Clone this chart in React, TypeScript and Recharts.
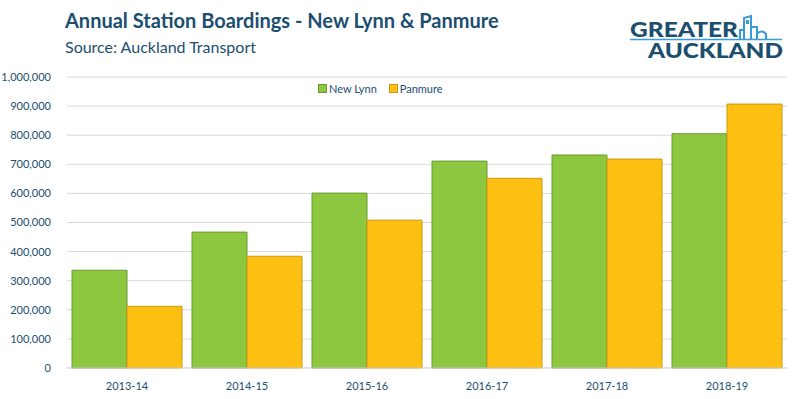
import React from "react";
import { BarChart, Bar, XAxis, YAxis, CartesianGrid } from "recharts";

const years = ["2013-14", "2014-15", "2015-16", "2016-17", "2017-18", "2018-19"];
const newLynn = [336000, 467000, 601000, 711000, 732000, 805000];
const panmure = [212000, 384000, 508000, 652000, 718000, 907000];
const yTicks = [0, 100000, 200000, 300000, 400000, 500000, 600000, 700000, 800000, 900000, 1000000];

const data = years.map((year, i) => ({
  year,
  newLynn: newLynn[i],
  panmure: panmure[i],
}));

const GREEN = "#8dc63f";
const ORANGE = "#fdbf12";
const NAVY = "#1c4e70";
const FONT = "Lato, 'Noto Sans', sans-serif";

const Logo = () => (
  <svg width={170} height={70} style={{ position: "absolute", left: 620, top: 0 }}>
    <text x={10} y={37} fontFamily={FONT} fontWeight={900} fontSize={21} fill={NAVY} textLength={108} lengthAdjust="spacingAndGlyphs">
      GREATER
    </text>
    <text x={28} y={58} fontFamily={FONT} fontWeight={900} fontSize={20} fill={NAVY} textLength={135} lengthAdjust="spacingAndGlyphs">
      AUCKLAND
    </text>
    <line x1={10} y1={39.5} x2={162} y2={39.5} stroke="#3a9bd9" strokeWidth={1.5} />
    <g fill="none" stroke="#3a9bd9" strokeWidth={2}>
      <path d="M124 39 V18 L131 16 V39" />
      <path d="M131 27 H137 V39" />
      <path d="M137 39 V34 Q141 29 146 34 V39" />
      <path d="M120 39 V30 H124" />
    </g>
    <rect x={126} y={20} width={3} height={4} fill="#3a9bd9" />
  </svg>
);

export default function App() {
  return (
    <div style={{ position: "absolute", left: 0, top: 0, width: 801, height: 399, background: "#fff", fontFamily: FONT }}>
      <div style={{ position: "absolute", left: 65, top: 8, fontSize: 20, fontWeight: 700, color: NAVY, whiteSpace: "nowrap" }}>
        Annual Station Boardings - New Lynn &amp; Panmure
      </div>
      <div style={{ position: "absolute", left: 65, top: 37, fontSize: 16, color: NAVY, whiteSpace: "nowrap" }}>
        Source: Auckland Transport
      </div>
      <Logo />
      <div style={{ position: "absolute", left: 318, top: 82, display: "flex", alignItems: "center", fontSize: 11, color: NAVY }}>
        <span style={{ width: 7, height: 7, background: GREEN, border: "1px solid #6b9a33", marginRight: 2 }} />
        <span style={{ marginRight: 12 }}>New Lynn</span>
        <span style={{ width: 7, height: 7, background: ORANGE, border: "1px solid #c99a10", marginRight: 2 }} />
        <span>Panmure</span>
      </div>
      <div style={{ position: "absolute", left: 0, top: 0 }}>
        <BarChart
          width={801}
          height={399}
          data={data}
          margin={{ top: 77, right: 14, bottom: 0, left: 0 }}
          barCategoryGap={5}
          barGap={0}
        >
          <CartesianGrid vertical={false} stroke="#d9d9d9" />
          <XAxis
            dataKey="year"
            tickLine={false}
            axisLine={{ stroke: "#d9d9d9" }}
            tick={{ fill: NAVY, fontSize: 11, fontFamily: FONT }}
            tickMargin={8}
            height={31}
          />
          <YAxis
            width={67}
            domain={[0, 1000000]}
            ticks={yTicks}
            tickLine={false}
            axisLine={false}
            tickMargin={10}
            tick={{ fill: NAVY, fontSize: 11, fontFamily: FONT }}
            tickFormatter={(v: number) => v.toLocaleString("en-US")}
          />
          <Bar dataKey="newLynn" fill={GREEN} stroke="#6b9a33" strokeWidth={1} isAnimationActive={false} />
          <Bar dataKey="panmure" fill={ORANGE} stroke="#c99a10" strokeWidth={1} isAnimationActive={false} />
        </BarChart>
      </div>
    </div>
  );
}
